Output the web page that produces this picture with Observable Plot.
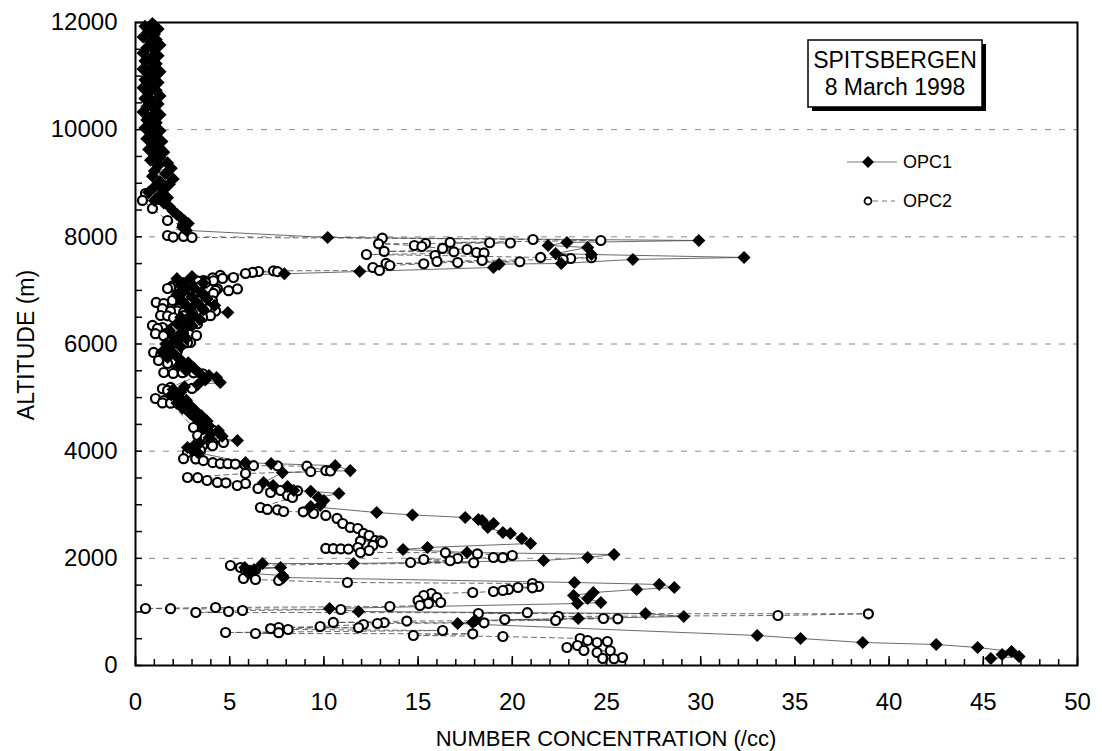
<!DOCTYPE html>
<html><head><meta charset="utf-8">
<script src="https://cdn.jsdelivr.net/npm/d3@7"></script>
<script src="https://cdn.jsdelivr.net/npm/@observablehq/plot@0.6"></script>
<style>body{margin:0;background:#fff}</style>
</head><body><div id="chart"></div>
<script>
// [concentration (/cc), altitude (m)], in profile order
const opc1 = [
[0.9,11980],[0.5,11930],[1.2,11880],[0.7,11830],[1.0,11780],[0.4,11730],[1.1,11680],[0.8,11630],[1.3,11580],[0.6,11530],
[1.0,11480],[0.4,11430],[1.2,11380],[0.8,11330],[0.5,11280],[1.1,11230],[0.9,11180],[0.4,11130],[1.3,11080],[0.7,11030],
[1.0,10980],[0.5,10930],[1.2,10880],[0.8,10830],[0.4,10780],[1.1,10730],[0.7,10680],[1.3,10630],[0.5,10580],[0.9,10530],
[1.2,10480],[0.6,10430],[1.0,10380],[0.4,10330],[1.3,10280],[0.8,10230],[0.6,10180],[1.1,10130],[0.9,10080],[0.5,10030],
[1.3,9980],[0.8,9930],[1.1,9880],[0.6,9830],[1.4,9780],[0.9,9730],[1.2,9680],[0.7,9630],[1.5,9580],[1.0,9530],
[1.3,9480],[0.8,9430],[1.7,9380],[1.2,9330],[1.9,9280],[1.0,9230],[1.6,9180],[0.9,9130],[2.0,9080],[1.3,9030],
[1.8,8980],[1.0,8930],[1.5,8880],[0.7,8830],[1.3,8780],[1.7,8730],[1.0,8680],[1.5,8630],[1.8,8560],[2.0,8480],
[2.2,8420],[2.4,8360],[2.6,8300],[2.8,8250],[2.5,8180],[2.7,8120],
[10.2,7988],[29.9,7932],[22.9,7895],[21.9,7839],[24.0,7801],[22.3,7689],[24.2,7670],[32.3,7615],[26.4,7578],
[22.6,7503],[19.3,7490],[19.0,7428],[11.9,7353],[7.9,7310],
[3.0,7260],[2.2,7220],[2.8,7180],[3.6,7140],[2.4,7090],[3.1,7050],[2.6,7000],[3.5,6960],[2.2,6920],[3.0,6880],
[3.8,6840],[2.5,6800],[3.3,6760],[4.2,6720],[2.8,6680],[3.6,6640],[4.9,6588],[3.0,6550],[2.4,6500],[3.4,6460],
[2.8,6420],[2.2,6380],[3.0,6340],[2.6,6300],[1.8,6250],[2.4,6200],[2.0,6150],[2.7,6100],[2.2,6050],[1.6,6000],
[2.4,5950],[1.8,5900],[1.4,5850],[2.1,5800],[1.7,5750],[2.4,5700],[2.8,5650],[2.3,5600],[3.1,5550],[2.7,5500],
[3.4,5450],[3.9,5410],[4.3,5375],[3.7,5330],[4.5,5282],[3.3,5240],[2.6,5200],[2.0,5150],[2.4,5100],[1.9,5050],
[2.3,5000],[2.7,4950],[2.2,4900],[2.9,4850],[2.5,4800],[3.2,4750],[2.9,4703],[3.5,4660],[3.2,4610],[3.8,4560],
[3.5,4517],[3.9,4470],[3.6,4420],[4.4,4380],[4.0,4330],[4.6,4280],[3.9,4250],[5.41,4199],[3.4,4150],[3.1,4100],
[2.76,4069],[3.0,4020],[3.3,3975],
[5.84,3786],[7.2,3768],[10.6,3730],[11.4,3637],[7.8,3600],[6.8,3416],[7.3,3359],[8.07,3340],[8.4,3266],[9.3,3250],
[10.8,3210],[9.7,3135],[10.0,3080],[9.8,2986],[9.3,2967],[12.8,2855],[14.7,2810],[17.5,2762],[18.2,2725],[18.4,2706],
[19.0,2650],[18.7,2576],[19.5,2482],[19.9,2464],[20.5,2370],[20.97,2277],[15.5,2202],[14.2,2165],[17.6,2109],[25.4,2072],
[24.0,2016],[21.66,1960],[11.57,1904],[6.74,1904],[5.8,1830],[7.7,1829],[6.3,1790],[6.0,1720],[7.8,1680],[7.86,1642],
[23.3,1549],[27.8,1512],[28.6,1456],[26.6,1418],[24.3,1362],[23.25,1306],[24.0,1250],[24.7,1176],[23.46,1157],[10.3,1064],
[11.84,1008],[27.07,970],[29.1,915],[23.5,877],[18.05,840],[17.9,803],[17.1,784],[33.0,560],[35.3,504],[38.6,429],
[42.5,392],[44.7,336],[46.5,261],[46.0,205],[46.9,168],[45.4,131]
];
const opc2 = [
[0.53,8809],[1.22,8700],[0.37,8679],[0.9,8530],[1.7,8305],[2.5,8212],[1.7,8025],[2.55,8007],[2.0,7995],[3.0,7988],
[13.1,7975],[21.1,7950],[24.7,7932],[16.7,7895],[18.8,7890],[19.9,7885],[15.4,7876],[12.9,7870],[14.8,7838],[15.2,7820],
[16.3,7783],[17.6,7764],[13.2,7727],[16.9,7720],[18.1,7708],[18.5,7700],[12.26,7670],[15.9,7652],[21.5,7615],[24.2,7610],
[23.1,7596],[22.7,7578],[18.4,7559],[16.0,7540],[20.4,7535],[17.1,7521],[13.3,7503],[15.3,7498],[13.5,7465],[12.6,7428],
[12.95,7372],[7.32,7365],[6.53,7353],[7.54,7350],[6.21,7335],[5.84,7316],[4.5,7279],[5.2,7241],[4.1,7235],[4.62,7223],
[3.6,7185],[4.14,7180],[3.3,7175],[2.8,7148],[3.72,7145],[2.55,7140],[2.92,7129],[2.5,7120],[2.0,7092],[2.23,7088],
[3.45,7085],[1.86,7055],[1.7,7036],[2.5,7032],[4.35,7030],[5.41,7028],[4.25,6999],[4.94,6995],[3.08,6961],[4.14,6943],
[3.56,6924],[2.65,6906],[2.76,6850],[1.96,6812],[3.29,6808],[4.09,6806],[2.4,6805],[1.1,6775],[3.72,6770],[1.5,6756],
[2.81,6752],[3.3,6681],[4.0,6675],[2.9,6663],[1.43,6660],[2.28,6658],[3.82,6655],[3.6,6625],[2.23,6620],[4.25,6615],
[1.86,6612],[3.34,6610],[2.55,6588],[3.03,6569],[1.33,6532],[2.55,6530],[3.98,6528],[1.7,6525],[3.56,6495],[2.02,6490],
[2.8,6470],[2.5,6439],[2.9,6383],[2.49,6380],[3.29,6378],[0.9,6346],[2.81,6344],[2.55,6340],[1.43,6308],[2.02,6304],
[1.17,6290],[2.1,6285],[1.6,6196],[1.06,6192],[2.55,6190],[3.24,6159],[1.49,6155],[2.02,6122],[2.92,6028],[2.76,6024],
[2.55,6010],[2.23,6005],[1.7,5972],[2.23,5935],[1.86,5879],[2.23,5875],[0.96,5842],[1.75,5838],[1.33,5786],[1.49,5748],
[1.22,5692],[2.02,5655],[1.7,5636],[2.39,5632],[2.5,5506],[1.5,5468],[2.49,5465],[3.08,5462],[2.0,5450],[3.56,5445],
[1.86,5189],[3.0,5170],[1.43,5165],[1.7,5133],[2.1,5077],[2.28,5002],[1.06,4983],[1.49,4946],[1.96,4909],[1.43,4900],
[1.86,4895],[3.08,4442],[4.14,4386],[3.8,4330],[3.3,4293],[3.7,4255],[4.67,4162],[3.82,4158],[4.1,4155],[3.98,4143],
[3.56,4106],[4.09,4100],[3.08,4050],[3.45,4013],[2.76,3975],
[2.55,3860],[3.2,3855],[3.6,3823],[4.1,3786],[4.5,3768],[4.9,3765],[5.3,3760],[5.8,3749],[6.26,3730],[7.54,3725],
[9.1,3720],[10.1,3637],[10.35,3630],[9.3,3618],[5.84,3583],[2.76,3509],[3.3,3505],[3.8,3453],[4.35,3416],[4.8,3410],
[5.84,3397],[5.4,3359],[6.5,3303],[7.7,3266],[8.6,3260],[7.17,3229],[8.07,3173],[8.33,3135],[6.63,2949],[7.0,2912],
[7.54,2905],[7.86,2874],[8.9,2868],[9.45,2837],[10.1,2800],[10.7,2744],[11.0,2650],[11.4,2576],[11.8,2557],[12.1,2464],
[12.4,2426],[12.74,2333],[13.0,2328],[11.94,2322],[13.1,2296],[12.6,2240],[11.8,2202],[10.1,2184],[10.5,2180],[10.9,2176],
[11.3,2172],[12.4,2146],[11.94,2109],[16.45,2105],[18.15,2085],[20.0,2053],[19.0,2016],[19.5,2012],[17.1,1997],[15.3,1978],
[16.7,1955],[14.6,1922],[17.95,1918],[5.04,1866],[5.57,1829],[6.37,1792],[5.84,1773],[6.1,1768],[5.73,1624],[6.37,1605],
[7.6,1586],[11.25,1549],[21.07,1530],[21.4,1474],[20.3,1456],[21.07,1450],[19.8,1418],[19.5,1400],[19.0,1381],[17.9,1362],
[15.7,1344],[15.3,1306],[16.0,1269],[15.0,1213],[16.2,1176],[15.55,1157],[15.1,1120],[13.5,1101],[4.25,1082],[0.53,1064],
[1.86,1060],[10.9,1045],[5.68,1026],[4.94,1008],[3.2,989],[20.8,985],[18.2,970],[38.9,965],[34.1,933],[22.45,915],
[24.84,877],[25.6,872],[19.6,858],[22.3,840],[14.4,830],[10.5,803],[13.2,800],[18.5,797],[12.84,784],[12.1,765],
[9.8,728],[7.6,709],[11.84,705],[7.17,690],[8.1,672],[16.3,653],[4.78,616],[7.6,612],[6.37,597],[17.9,592],
[14.75,560],[19.5,541],[23.6,504],[24.0,467],[25.05,448],[24.5,429],[23.46,373],[22.9,336],[23.8,280],[25.2,275],
[24.5,243],[25.85,149],[24.8,131],[25.4,126]
];
const xMajorTicks = [0,5,10,15,20,25,30,35,40,45,50];
const xMinorTicks = d3.range(0, 51, 1);
const yMajorTicks = [0,2000,4000,6000,8000,10000,12000];
const yMinorTicks = d3.range(0, 12001, 500);
const gridLevels = [2000,4000,6000,8000,10000];
const xTitle = "NUMBER CONCENTRATION (/cc)";
const yTitle = "ALTITUDE (m)";
const boxLines = ["SPITSBERGEN", "8 March 1998"];
const seriesNames = ["OPC1", "OPC2"];

const W = 1102, H = 751, mL = 135, mR = 25, mT = 22, mB = 86;
const pw = W - mL - mR, ph = H - mT - mB;
const font = "'Liberation Sans', Arial, sans-serif";

const chart = Plot.plot({
  width: W, height: H,
  marginLeft: mL, marginRight: mR, marginTop: mT, marginBottom: mB,
  x: {domain: [0, 50]},
  y: {domain: [0, 12000]},
  style: {fontFamily: font, background: "white", color: "black"},
  marks: [
    Plot.ruleY(gridLevels, {stroke: "#8a8a8a", strokeWidth: 1, strokeDasharray: "6,8"}),
    Plot.line(opc1, {x: d => d[0], y: d => d[1], stroke: "#444", strokeWidth: 0.8}),
    Plot.line(opc2, {x: d => d[0], y: d => d[1], stroke: "#444", strokeWidth: 0.8, strokeDasharray: "5,4"}),
    Plot.dot(opc2, {x: d => d[0], y: d => d[1], r: 4.5, stroke: "black", strokeWidth: 2.2, fill: "white"}),
    Plot.dot(opc1, {x: d => d[0], y: d => d[1], symbol: "diamond2", r: 5.9, fill: "black", stroke: "none"}),
    Plot.ruleY(yMinorTicks, {stroke: "black", strokeWidth: 1.5, insetRight: pw - 7}),
    Plot.ruleX(xMinorTicks, {stroke: "black", strokeWidth: 1.5, insetTop: ph - 6}),
    Plot.ruleX(xMajorTicks, {stroke: "black", strokeWidth: 1.5, insetTop: ph - 9}),
    Plot.frame({stroke: "black", strokeWidth: 2}),
    Plot.axisY({ticks: yMajorTicks, tickSize: 0, tickPadding: 18, fontSize: 24, label: null, tickFormat: d3.format("d")}),
    Plot.axisX({ticks: xMajorTicks, tickSize: 0, tickPadding: 27, fontSize: 24, label: null, tickFormat: d3.format("d")})
  ]
});
document.getElementById("chart").appendChild(chart);

// titles, annotation box, legend
const svg = d3.select(chart);
const g = svg.append("g").attr("font-family", font).attr("fill", "black").attr("text-anchor", "start");
g.append("text").attr("x", 606).attr("y", 746).attr("text-anchor", "middle").attr("font-size", 22).text(xTitle);
g.append("text").attr("transform", "translate(34,345) rotate(-90)").attr("text-anchor", "middle").attr("font-size", 23).text(yTitle);

g.append("rect").attr("x", 812).attr("y", 44).attr("width", 174).attr("height", 67).attr("fill", "black");
g.append("rect").attr("x", 808).attr("y", 40).attr("width", 174).attr("height", 67).attr("fill", "white").attr("stroke", "black").attr("stroke-width", 1.5);
boxLines.forEach((t, i) => g.append("text").attr("x", 895).attr("y", 68 + i * 27).attr("text-anchor", "middle").attr("font-size", 23).text(t));

const leg = g.append("g");
leg.append("line").attr("x1", 847).attr("x2", 897).attr("y1", 162).attr("y2", 162).attr("stroke", "#555").attr("stroke-width", 0.8);
leg.append("path").attr("d", d3.symbol(d3.symbolDiamond2, 90)()).attr("transform", "translate(868,162)");
leg.append("text").attr("x", 903).attr("y", 168).attr("font-size", 18).text(seriesNames[0]);
leg.append("line").attr("x1", 873).attr("x2", 895).attr("y1", 201).attr("y2", 201).attr("stroke", "#555").attr("stroke-width", 0.8).attr("stroke-dasharray", "5,4");
leg.append("circle").attr("cx", 868).attr("cy", 201).attr("r", 3.5).attr("fill", "white").attr("stroke", "black").attr("stroke-width", 1.8);
leg.append("text").attr("x", 903).attr("y", 207).attr("font-size", 18).text(seriesNames[1]);
</script>
</body></html>
